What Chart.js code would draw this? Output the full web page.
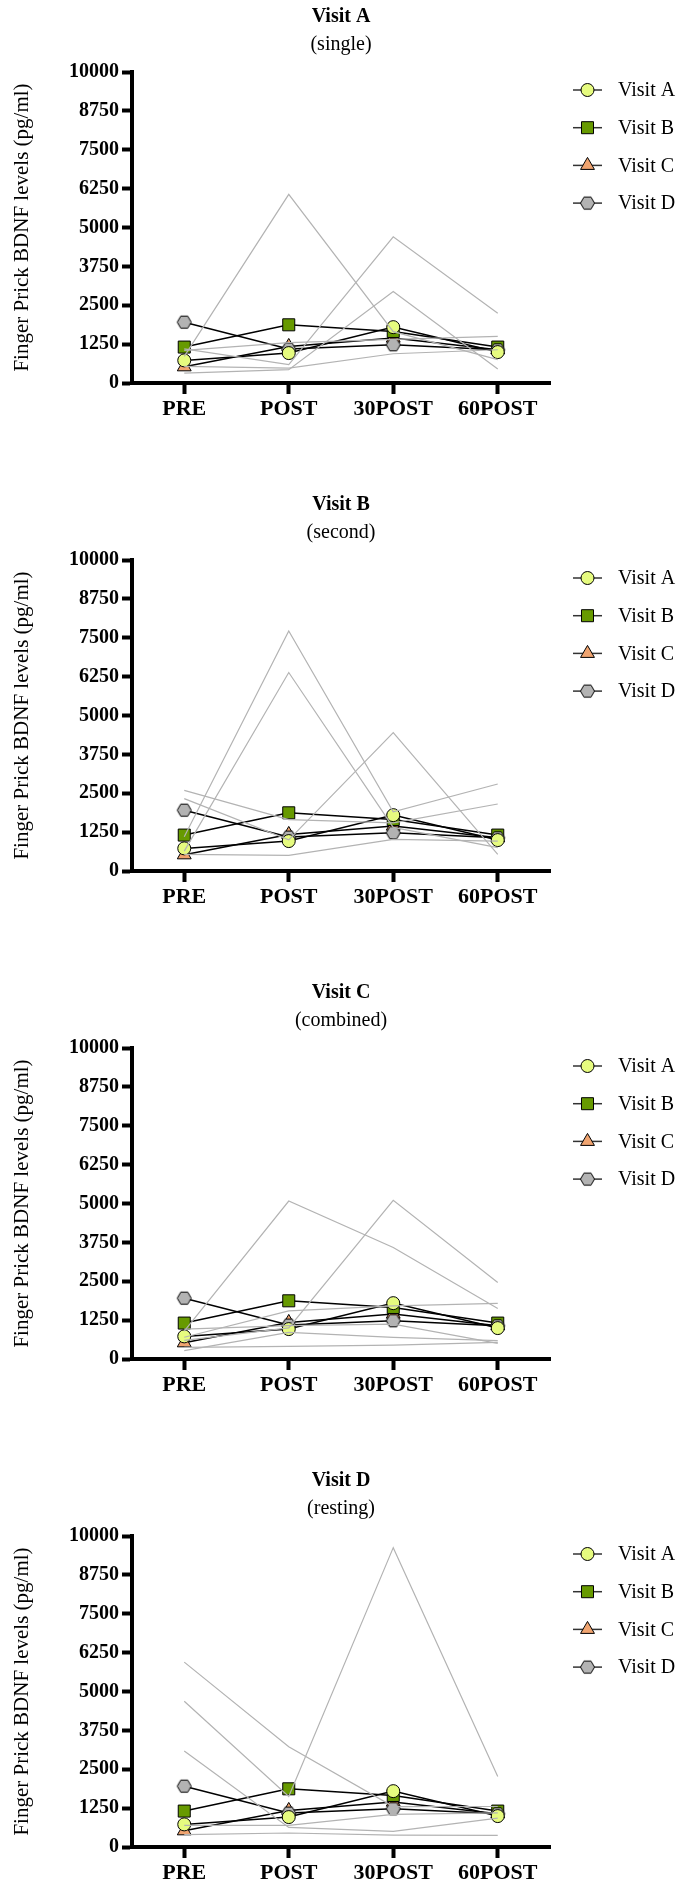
<!DOCTYPE html>
<html>
<head>
<meta charset="utf-8">
<title>Finger Prick BDNF</title>
<script src="https://cdn.jsdelivr.net/npm/chart.js@4.4.1/dist/chart.umd.min.js"></script>
<style>
  html, body { margin: 0; padding: 0; background: #fff; width: 682px; height: 1890px; overflow: hidden; }
  .panel { width: 682px; height: 488px; }
  canvas { display: block; }
</style>
</head>
<body>
<div class="panel"><canvas id="chartA" width="682" height="488"></canvas></div>
<div class="panel"><canvas id="chartB" width="682" height="488"></canvas></div>
<div class="panel"><canvas id="chartC" width="682" height="488"></canvas></div>
<div class="panel"><canvas id="chartD" width="682" height="488"></canvas></div>
<script>
const timepoints = ['PRE', 'POST', '30POST', '60POST'];
const yTickValues = [0, 1250, 2500, 3750, 5000, 6250, 7500, 8750, 10000];
const visitNames = ['Visit A', 'Visit B', 'Visit C', 'Visit D'];

// group means (same markers in every panel)
const meanVisitA = [727, 962, 1796, 994];
const meanVisitB = [1155, 1871, 1657, 1155];
const meanVisitC = [520, 1176, 1443, 1069];
const meanVisitD = [1956, 1090, 1229, 1069];

// individual participants, one list per panel
const singleSubjects = [
    [855, 6064, 1650, 750],
    [1100, 588, 4700, 2245],
    [320, 428, 2940, 449],
    [1050, 1300, 1400, 1497],
    [535, 480, 940, 1069]
];
const secondSubjects = [
    [1100, 7716, 1900, 2796],
    [640, 6382, 1400, 750],
    [2593, 1650, 1550, 2155],
    [2326, 1000, 4450, 534],
    [534, 501, 1014, 960]
];
const combinedSubjects = [
    [900, 5080, 3583, 1626],
    [600, 1000, 5101, 2460],
    [700, 1550, 1711, 1786],
    [267, 855, 695, 588],
    [374, 406, 449, 535],
    [963, 1070, 1123, 503]
];
const restingSubjects = [
    [5944, 3223, 1300, 1302],
    [4685, 1622, 9626, 2264],
    [3084, 630, 502, 929],
    [694, 694, 1050, 1100],
    [395, 450, 380, 374]
];

const FONT = "'Liberation Serif', 'Times New Roman', serif";

function makeHexagon(r, fill) {
    const size = Math.ceil(r * 2 + 3);
    const c = document.createElement('canvas');
    c.width = size;
    c.height = size;
    const g = c.getContext('2d');
    g.beginPath();
    for (let i = 0; i < 6; i++) {
        const a = Math.PI / 3 * i;
        const x = size / 2 + r * Math.cos(a);
        const y = size / 2 + r * Math.sin(a);
        if (i === 0) g.moveTo(x, y); else g.lineTo(x, y);
    }
    g.closePath();
    g.fillStyle = fill;
    g.fill();
    g.lineWidth = 1;
    g.strokeStyle = '#000';
    g.stroke();
    return c;
}

const hexagon = makeHexagon(7, '#b3b3b3');

// marker styles for the four visit means
const markers = [
    { style: 'circle', radius: 6.5, fill: '#e6fb7f' },
    { style: 'rect', radius: 8.5, fill: '#679a00' },
    { style: 'triangle', radius: 8, fill: '#f0a470' },
    { style: hexagon, radius: 7, fill: '#b3b3b3' }
];

const panelTitles = [
    ['Visit A', '(single)', singleSubjects, 'chartA'],
    ['Visit B', '(second)', secondSubjects, 'chartB'],
    ['Visit C', '(combined)', combinedSubjects, 'chartC'],
    ['Visit D', '(resting)', restingSubjects, 'chartD']
];

const titleAndLegend = {
    id: 'titleAndLegend',
    afterDraw(chart, args, opts) {
        const ctx = chart.ctx;
        ctx.save();
        ctx.fillStyle = '#000';
        ctx.textAlign = 'center';
        ctx.textBaseline = 'middle';
        ctx.font = 'bold 20px ' + FONT;
        ctx.fillText(opts.title, chart.width / 2, 17);
        ctx.font = '20px ' + FONT;
        ctx.fillText(opts.subtitle, chart.width / 2, 45);

        // legend: line - marker - line, then label
        ctx.textAlign = 'left';
        visitNames.forEach((name, i) => {
            const y = 90 + i * 37.7;
            ctx.strokeStyle = '#333';
            ctx.lineWidth = 1.5;
            ctx.beginPath();
            ctx.moveTo(573, y);
            ctx.lineTo(602, y);
            ctx.stroke();
            const m = markers[i];
            ctx.fillStyle = m.fill;
            ctx.strokeStyle = '#000';
            ctx.lineWidth = 1;
            Chart.helpers.drawPoint(ctx, { pointStyle: m.style, radius: m.radius, rotation: 0, borderWidth: 1 }, 587.5, y);
            ctx.fillStyle = '#000';
            ctx.font = '20px ' + FONT;
            ctx.fillText(name, 618, y + 1);
        });
        ctx.restore();
    }
};

function buildChart(title, subtitle, subjects, canvasId) {
    const datasets = [];
    subjects.forEach(values => {
        datasets.push({
            data: values,
            borderColor: '#b3b3b3',
            borderWidth: 1.2,
            pointRadius: 0,
            tension: 0,
            order: 0
        });
    });
    const means = [meanVisitA, meanVisitB, meanVisitC, meanVisitD];
    const drawOrder = [1, 3, 4, 2];
    means.forEach((values, i) => {
        datasets.push({
            label: visitNames[i],
            data: values,
            borderColor: '#000',
            borderWidth: 1.5,
            pointStyle: markers[i].style,
            pointRadius: markers[i].radius,
            pointBackgroundColor: markers[i].fill,
            pointBorderColor: '#000',
            pointBorderWidth: 1,
            tension: 0,
            order: drawOrder[i]
        });
    });

    return new Chart(document.getElementById(canvasId), {
        type: 'line',
        data: { labels: timepoints, datasets: datasets },
        options: {
            responsive: false,
            animation: false,
            events: [],
            layout: { padding: { top: 72, right: 132, bottom: 0, left: 0 } },
            plugins: {
                legend: { display: false },
                tooltip: { enabled: false },
                titleAndLegend: { title: title, subtitle: subtitle }
            },
            scales: {
                x: {
                    offset: true,
                    grid: { display: true, drawOnChartArea: false, drawTicks: true, tickLength: 11, tickWidth: 4, tickColor: '#000' },
                    border: { display: true, color: '#000', width: 4 },
                    ticks: { color: '#000', font: { family: FONT, size: 22, weight: 'bold' }, padding: 2, maxRotation: 0 },
                    afterFit(scale) { scale.height = 105; }
                },
                y: {
                    min: 0,
                    max: 10000,
                    afterBuildTicks(scale) { scale.ticks = yTickValues.map(v => ({ value: v })); },
                    grid: { display: true, drawOnChartArea: false, drawTicks: true, tickLength: 10, tickWidth: 4, tickColor: '#000' },
                    border: { display: true, color: '#000', width: 4 },
                    ticks: {
                        color: '#000',
                        font: { family: FONT, size: 20, weight: 'bold' },
                        padding: 3,
                        callback: v => String(v)
                    },
                    title: {
                        display: true,
                        text: 'Finger Prick BDNF levels (pg/ml)',
                        color: '#000',
                        font: { family: FONT, size: 21 },
                        padding: { top: 10, bottom: 0 }
                    },
                    afterFit(scale) { scale.width = 132; }
                }
            }
        },
        plugins: [titleAndLegend]
    });
}

panelTitles.forEach(p => buildChart(p[0], p[1], p[2], p[3]));
</script>
</body>
</html>
